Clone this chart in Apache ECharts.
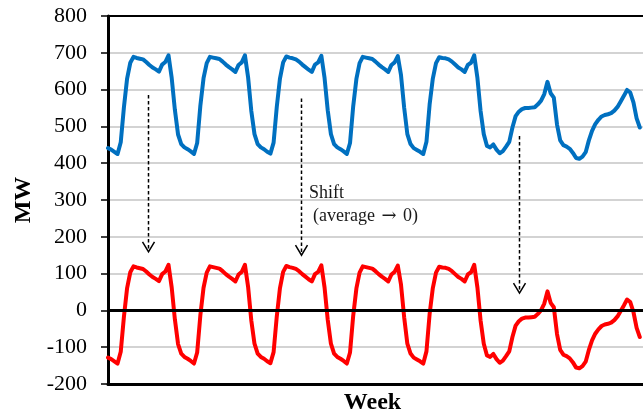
<!DOCTYPE html>
<html>
<head>
<meta charset="utf-8">
<script src="https://cdn.jsdelivr.net/npm/echarts@6/dist/echarts.min.js"></script>
<style>
  html, body { margin: 0; padding: 0; background: #ffffff; }
  #chart { width: 643px; height: 420px; }
</style>
</head>
<body>
<div id="chart"></div>
<script>
// Hourly electricity load for one week (MW), one array per day starting at midnight.
const monday    = [441,437,431,425,457,552,630,673,689,686,684,682,675,667,660,655,649,668,675,693,632,545,478,452];
const tuesday   = [443,438,432,425,455,556,631,672,689,687,685,683,676,668,661,655,648,667,674,693,633,542,479,452];
const wednesday = [443,438,431,426,456,553,630,674,690,687,685,682,676,668,661,654,648,668,674,692,632,544,479,452];
const thursday  = [443,438,432,425,455,555,629,672,689,687,685,683,676,668,661,655,648,667,674,691,640,551,479,452];
const friday    = [441,436,431,425,458,560,630,672,688,686,685,682,676,668,660,655,648,667,673,693,632,542,479,447];
const saturday  = [443,451,437,427,433,445,458,497,528,540,547,550,550,551,552,560,570,588,621,590,578,505,462,449];
const sunday    = [445,439,428,414,412,418,430,462,488,506,518,527,531,533,536,543,553,568,583,599,592,565,522,497];

// Y axis range and step (MW)
const yMin = -200;
const yMax = 800;
const yStep = 100;
const hoursInWeek = 168;

// Dashed "shift" arrows: hour of the week, start value, tip value
const arrowHours = [12.5, 60.7, 129.1];
const arrowFrom  = [585, 576, 474];
const arrowTo    = [159, 150, 47];

// Annotation text lines and their anchors (hour, value)
const noteLines  = ['Shift', '(average {arrow|\u2192} 0)'];
const noteHours  = [63.1, 64.4];
const noteValues = [317, 256];

// Weekly load and the same load shifted so its average becomes zero
const load = [].concat(monday, tuesday, wednesday, thursday, friday, saturday, sunday);
const average = load.reduce((s, v) => s + v, 0) / load.length;
const shifted = load.map(v => v - average);

const serif = '"Liberation Serif", "Times New Roman", "DejaVu Serif", serif';

const chart = echarts.init(document.getElementById('chart'), null, { renderer: 'canvas' });

const option = {
  backgroundColor: '#ffffff',
  animation: false,
  grid: { left: 108, top: 16, width: 540, height: 370, containLabel: false },
  xAxis: [
    {
      type: 'value', min: 0, max: hoursInWeek, position: 'bottom',
      name: 'Week', nameLocation: 'middle', nameGap: 7,
      nameTextStyle: { fontFamily: serif, fontSize: 24, fontWeight: 'bold', color: '#000', verticalAlign: 'top', padding: [0, 6, 0, 0] },
      axisLine: { show: true, onZero: false, lineStyle: { color: '#000', width: 3 } },
      axisTick: { show: false }, axisLabel: { show: false }, splitLine: { show: false }
    },
    {
      type: 'value', min: 0, max: hoursInWeek, position: 'top',
      axisLine: { show: true, onZero: false, lineStyle: { color: '#000', width: 2 } },
      axisTick: { show: false }, axisLabel: { show: false }, splitLine: { show: false }
    }
  ],
  yAxis: {
    type: 'value', min: yMin, max: yMax, interval: yStep,
    name: 'MW', nameLocation: 'middle', nameGap: 71, nameRotate: 90,
    nameTextStyle: { fontFamily: serif, fontSize: 24, fontWeight: 'bold', color: '#000' },
    axisLine: { show: true, onZero: false, lineStyle: { color: '#000', width: 3 } },
    axisTick: { show: true, inside: false, length: 7, lineStyle: { color: '#000', width: 1.5 } },
    axisLabel: { fontFamily: serif, fontSize: 22, color: '#000', margin: 21 },
    splitLine: { show: true, lineStyle: { color: '#c4c4c4', width: 1.5 } }
  },
  series: [
    {
      name: 'Load', type: 'line', z: 2,
      data: load.map((v, i) => [i, v]),
      showSymbol: false, symbol: 'none',
      lineStyle: { color: '#0070C0', width: 4, join: 'round', cap: 'round' },
      markLine: {
        silent: true, symbol: ['none', 'none'], animation: false,
        label: { show: false },
        lineStyle: { color: '#000', width: 3, type: 'solid' },
        data: [{ yAxis: 0 }]
      }
    },
    {
      name: 'Shifted load', type: 'line', z: 3,
      data: shifted.map((v, i) => [i, v]),
      showSymbol: false, symbol: 'none',
      lineStyle: { color: '#FF0000', width: 4, join: 'round', cap: 'round' }
    }
  ]
};

chart.setOption(option);

// Arrows and note text are placed from data coordinates
const toPx = (h, v) => chart.convertToPixel({ gridIndex: 0 }, [h, v]);
const graphics = [];
arrowHours.forEach((h, i) => {
  const a = toPx(h, arrowFrom[i]);
  const b = toPx(h, arrowTo[i]);
  const x = Math.round(a[0]) + 0.5;
  graphics.push({
    type: 'line', silent: true, z: 10,
    shape: { x1: x, y1: a[1], x2: x, y2: b[1] - 1 },
    style: { stroke: '#000', lineWidth: 1.5, lineDash: [3.5, 2.5] }
  });
  graphics.push({
    type: 'polyline', silent: true, z: 10,
    shape: { points: [[x - 6, b[1] - 10], [x, b[1]], [x + 6, b[1] - 10]] },
    style: { stroke: '#000', lineWidth: 1.5, fill: null }
  });
});
noteLines.forEach((t, i) => {
  const p = toPx(noteHours[i], noteValues[i]);
  graphics.push({
    type: 'text', silent: true, z: 10,
    x: p[0], y: p[1],
    style: {
      text: t, fill: '#1a1a1a', font: '18px ' + serif, align: 'left', verticalAlign: 'middle',
      rich: { arrow: { fontFamily: '"DejaVu Serif", serif', fontSize: 18, fill: '#1a1a1a', padding: [0, 2, 0, 2] } }
    }
  });
});
chart.setOption({ graphic: graphics });
</script>
</body>
</html>
